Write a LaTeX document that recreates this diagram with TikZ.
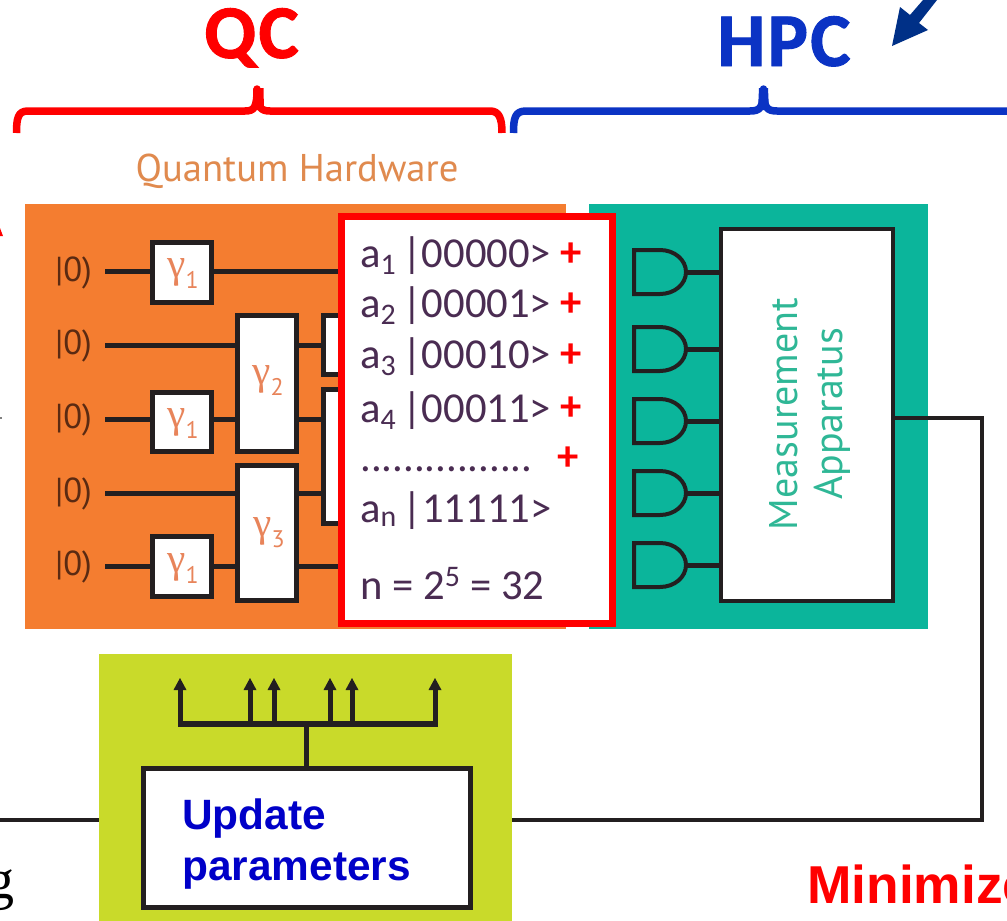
\documentclass[tikz,border=0pt]{standalone}
\usepackage{fontspec}
\setmainfont{Carlito}
\newfontfamily\arialf{Liberation Sans}
\newfontfamily\serf{Liberation Serif}
\newfontfamily\dinf{PT Sans}
\newfontfamily\headf[LetterSpace=3,FakeBold=1.2]{Carlito Bold}
\definecolor{qorange}{HTML}{F47D30}
\definecolor{qteal}{HTML}{0BB59B}
\definecolor{qlime}{HTML}{C9DA2A}
\definecolor{qdark}{HTML}{231F20}
\definecolor{qblue}{HTML}{0B33C4}
\definecolor{qnavy}{HTML}{003087}
\definecolor{qtext}{HTML}{4A2C52}
\definecolor{qhead}{HTML}{E08A4E}
\definecolor{qgam}{HTML}{E8845A}
\definecolor{qbrown}{HTML}{5A2A12}
\definecolor{qtealt}{HTML}{2FB796}
\definecolor{qupd}{HTML}{0000C8}
\newcommand{\gam}[1]{γ\raisebox{-8.25pt}{\dinf\fontsize{18}{20}\selectfont #1}}
\tikzset{
  gatebox/.style={draw=qdark,fill=white,line width=5pt*0.75},
  wire/.style={draw=qdark,line width=5pt*0.75},
  thinwire/.style={draw=qdark,line width=4pt*0.75},
  gamlabel/.style={text=qgam,anchor=base west,inner sep=0pt,font=\serf\fontsize{31}{34}\selectfont},
  ketlabel/.style={text=qbrown,inner sep=0pt,font=\dinf\fontsize{26}{30}\selectfont},
  amp/.style={text=qtext,anchor=base west,inner sep=0pt,font=\fontsize{32}{36}\selectfont},
  plus/.style={text=red,inner sep=0pt,font=\bfseries\fontsize{32}{36}\selectfont},
  brace/.style={line width=7.5pt*0.75,line cap=butt,line join=round},
  detector/.style={draw=qdark,line width=4pt*0.75},
  headtext/.style={anchor=base,inner sep=0pt,font=\headf\fontsize{57}{60}\selectfont},
  updtext/.style={text=qupd,anchor=base west,inner sep=0pt,font=\arialf\bfseries\fontsize{31.8}{36}\selectfont},
}
\begin{document}
\begin{tikzpicture}[x=0.75pt,y=-0.75pt]
\useasboundingbox (0,0) rectangle (1007,921);
\clip (0,0) rectangle (1007,921);
\fill[white] (0,0) rectangle (1007,921);
% panels
\fill[qorange] (25,204) rectangle (566,629);
\fill[qteal] (589,204) rectangle (928,629);
\fill[qlime] (99,654) rectangle (512,921);
% headings
\node[headtext,text=red] (qc) at (251.5,58) {QC};
\node[headtext,text=qblue] (hpc) at (784,66) {HPC};
\node[text=qhead,anchor=base,inner sep=0pt,font=\dinf\fontsize{29}{32}\selectfont] (qh) at (297,181) {Quantum Hardware};
% braces
\draw[brace,red] (16.5,133) .. controls (16.5,118) and (18,111) .. (28,111) -- (245,111)
  .. controls (254,111) and (257,108) .. (257,89) .. controls (257,108) and (261,111) .. (270,111)
  -- (490,111) .. controls (499,111) and (502,118) .. (502,133);
\fill[red] (253.5,88) -- (263.5,88) -- (264,110) -- (253,110) -- cycle;
\draw[brace,qblue] (513.5,133) .. controls (513.5,118) and (515,111) .. (526,111) -- (750,111)
  .. controls (760,111) and (763.5,108) .. (763.5,89) .. controls (763.5,108) and (767,111) .. (777,111) -- (1007,111);
\fill[qblue] (759,88) -- (768,88) -- (769,110) -- (758,110) -- cycle;
% arrow at top right
\fill[qnavy] (892,46) -- (900,7) -- (910,15) -- (923,0) -- (937,0) -- (919,23) -- (928,30) -- cycle;
% stray marks at left edge
\fill[red] (0,228) -- (3,236) -- (0,236) -- cycle;
\fill[gray] (0,417) rectangle (1.5,419);
% quantum wires
\coordinate (w1s) at (105,271);
\coordinate (w2s) at (105,345);
\coordinate (w3s) at (105,419);
\coordinate (w4s) at (105,493);
\coordinate (w5s) at (105,566);
\coordinate (w1e) at (342,271);
\coordinate (w2e) at (342,345);
\coordinate (w3e) at (342,419);
\coordinate (w4e) at (342,493);
\coordinate (w5e) at (342,566);
\foreach \n in {1,...,5}{\draw[wire] (w\n s) -- (w\n e);}
% kets
\node[ketlabel] (k1) at (73.5,273) {|0)};
\node[ketlabel] (k2) at (73.5,346) {|0)};
\node[ketlabel] (k3) at (73.5,420) {|0)};
\node[ketlabel] (k4) at (73.5,494) {|0)};
\node[ketlabel] (k5) at (73.5,567) {|0)};
% gates
\draw[gatebox] (152.5,242.5) rectangle (211.5,302);
\draw[gatebox] (152.5,392.5) rectangle (211.5,451);
\draw[gatebox] (152.5,536.5) rectangle (211.5,596);
\draw[gatebox] (237.5,315.5) rectangle (296.5,451);
\draw[gatebox] (237.5,465.5) rectangle (296.5,600);
\draw[gatebox] (323,315.5) rectangle (370,374);
\draw[gatebox] (323,389.5) rectangle (370,523);
\node[gamlabel] (g1) at (167,277) {\gam{1}};
\node[gamlabel] (g2) at (167,427) {\gam{1}};
\node[gamlabel] (g3) at (167,572) {\gam{1}};
\node[gamlabel] (g4) at (252,384) {\gam{2}};
\node[gamlabel] (g5) at (253,536) {\gam{3}};
% amplitude box
\draw[draw=red,fill=white,line width=7pt*0.75] (341.5,216) rectangle (612.5,623);
\node[amp] (a1) at (360,267) {a\textsubscript{1}\hspace{-3pt} |00000>};
\node[amp] (a2) at (360,317) {a\textsubscript{2}\hspace{-3pt} |00001>};
\node[amp] (a3) at (360,368) {a\textsubscript{3}\hspace{-3pt} |00010>};
\node[amp] (a4) at (360,422) {a\textsubscript{4}\hspace{-3pt} |00011>};
\node[amp] (a5) at (360,471) {................};
\node[amp] (a6) at (360,522) {a\textsubscript{n}\hspace{-3pt} |11111>};
\node[amp] (a7) at (360,599) {n = 2\textsuperscript{5} = 32};
\node[plus] (p1) at (571,255) {+};
\node[plus] (p2) at (571,305) {+};
\node[plus] (p3) at (571,356) {+};
\node[plus] (p4) at (571,409) {+};
\node[plus] (p5) at (568,459) {+};
% measurement
\node[draw=qdark,fill=white,line width=4pt*0.75,minimum width=172pt*0.75,minimum height=372pt*0.75,inner sep=0pt] (meas) at (807,415) {};
\node[text=qtealt,rotate=90,align=center,inner sep=0pt,font=\dinf\fontsize{30}{33.75}\selectfont] (mt) at (810,414) {Measurement\\Apparatus};
\foreach \i/\yc in {1/272,2/349,3/421,4/493,5/565}{
  \draw[detector] (634,\yc-22) -- (660,\yc-22)
    .. controls (674.4,\yc-22) and (686,\yc-12.2) .. (686,\yc)
    .. controls (686,\yc+12.2) and (674.4,\yc+22) .. (660,\yc+22) -- (634,\yc+22) -- cycle;
  \coordinate (d\i) at (686,\yc);
  \draw[wire] (d\i) -- (d\i -| meas.west);
}
% feedback loop
\coordinate (c1) at (982,418);
\coordinate (c2) at (982,820);
\coordinate (c3) at (0,820);
\node[inner sep=0pt,minimum size=0pt] (limeR) at (512,820) {};
\node[inner sep=0pt,minimum size=0pt] (limeL) at (99,820) {};
\draw[thinwire] (meas.east |- c1) -- (c1) -- (c2) -- (limeR);
\draw[thinwire] (limeL) -- (c3);
% update box
\node[gatebox,minimum width=327pt*0.75,minimum height=139pt*0.75,inner sep=0pt] (upd) at (307,838) {};
\node[updtext] (u1) at (182,829) {Update};
\node[updtext] (u2) at (182,880) {parameters};
% bus
\coordinate (bus) at (306,723.5);
\draw[wire] (upd.north -| bus) -- (bus);
\draw[draw=qdark,line width=6pt*0.75] (178,723.5) -- (438,723.5);
\foreach \i/\x in {1/180,2/250,3/274,4/330,5/352,6/435}{
  \coordinate (t\i) at (\x,678);
  \draw[wire] (\x,723.5) -- (\x,688);
  \fill[qdark] (t\i) -- (\x+6.5,690) -- (\x-6.5,690) -- cycle;
}
% cropped texts
\node[anchor=base east,inner sep=0pt,text=black,font=\serf\fontsize{42}{46}\selectfont] (gtxt) at (15,898) {g};
\node[anchor=base west,inner sep=0pt,text=red,font=\arialf\bfseries\fontsize{40}{44}\selectfont] (minz) at (807,903) {Minimize};
\end{tikzpicture}
\end{document}
